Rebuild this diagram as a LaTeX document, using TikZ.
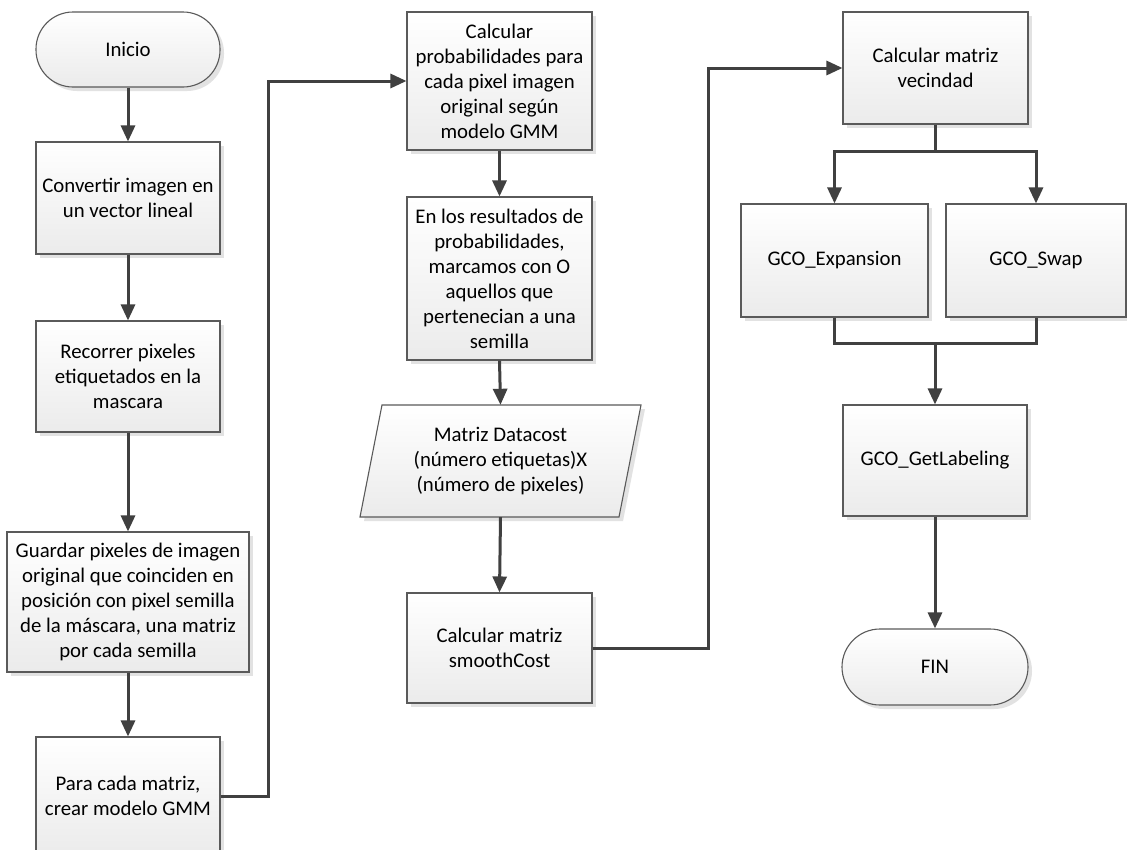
\documentclass[tikz,border=0pt]{standalone}
\usepackage{fontspec}
\setmainfont{Carlito}
\usetikzlibrary{arrows.meta,shadows,calc}
\definecolor{arrc}{HTML}{404040}
\definecolor{edgec}{HTML}{5A5A5A}
\definecolor{shc}{HTML}{E2E2E2}
\definecolor{botc}{HTML}{EBEBEB}
\begin{document}
\begin{tikzpicture}[x=1pt,y=-1pt,
  boxfill/.style={draw=edgec, line width=1.1pt, top color=white, bottom color=botc},
  box/.style={boxfill, drop shadow={shadow xshift=4pt, shadow yshift=-4pt, fill=shc, opacity=1},
    align=center, inner sep=0pt, font=\fontsize{20.8pt}{25pt}\selectfont, minimum width=184pt},
  term/.style={box, rounded corners=37pt},
  arr/.style={draw=arrc, line width=3pt, -{Triangle[length=16pt,width=14pt]}},
  conn/.style={draw=arrc, line width=3pt},
]
\useasboundingbox (0,0) rectangle (1127,849);
\fill[white] (0,0) rectangle (1127,849);
\clip (0,0) rectangle (1127,849);

% left column
\node[term, minimum height=75pt] (inicio) at (128,49.5) {Inicio};
\node[box, minimum height=112pt] (b1) at (128,198) {Convertir imagen en\\un vector lineal};
\node[box, minimum height=111pt] (b2) at (128,376.5) {Recorrer pixeles\\etiquetados en la\\mascara};
\node[box, minimum height=140pt, minimum width=242pt] (b3) at (128,602) {Guardar pixeles de imagen\\original que coinciden en\\posición con pixel semilla\\de la máscara, una matriz\\por cada semilla};
\node[box, minimum height=118pt] (b4) at (128,796) {Para cada matriz,\\crear modelo GMM};

% middle column
\node[box, minimum height=138pt, minimum width=185pt] (p1) at (499.5,81) {Calcular\\probabilidades para\\cada pixel imagen\\original según\\modelo GMM};
\node[box, minimum height=163pt, minimum width=185pt] (p2) at (499.5,278.5) {En los resultados de\\probabilidades,\\marcamos con O\\aquellos que\\pertenecian a una\\semilla};
\fill[shc, xshift=4pt, yshift=-4pt] (382,405) -- (641,405) -- (619,517) -- (360,517) -- cycle;
\path[boxfill] (382,405) -- (641,405) -- (619,517) -- (360,517) -- cycle;
\node[align=center, inner sep=0pt, font=\fontsize{20.8pt}{25pt}\selectfont, minimum width=259pt, minimum height=112pt] (data) at (500.5,461) {Matriz Datacost\\(número etiquetas)X\\(número de pixeles)};
\node[box, minimum height=110pt, minimum width=185pt] (p4) at (499.5,648) {Calcular matriz\\smoothCost};

% right column
\node[box, minimum height=112pt, minimum width=185pt] (v) at (935.5,68) {Calcular matriz\\vecindad};
\node[box, minimum height=113pt, minimum width=187pt] (e) at (834.5,260.5) {GCO\_Expansion};
\node[box, minimum height=113pt, minimum width=180pt] (s) at (1036,260.5) {GCO\_Swap};
\node[box, minimum height=111pt] (gl) at (935,460.5) {GCO\_GetLabeling};
\node[term, minimum height=76pt, minimum width=186pt, rounded corners=38pt] (fin) at (935,667) {FIN};

% connectors
\draw[arr] (inicio.south) -- (b1.north);
\draw[arr] (b1.south) -- (b2.north);
\draw[arr] (b2.south) -- (b3.north);
\draw[arr] (b3.south) -- (b4.north);
\draw[arr] (b4.east) -- ++(48,0) |- (p1.west);
\draw[arr] (p1.south) -- (p2.north);
\draw[arr] (p2.south) -- (data.north);
\draw[arr] (data.south) -- (p4.north);
\draw[arr] (p4.east) -- ++(116,0) |- (v.west);
\coordinate (split) at ($(v.south)+(0,27)$);
\draw[conn] (v.south) -- (split);
\draw[arr] (split) -| (e.north);
\draw[arr] (split) -| (s.north);
\coordinate (merge) at ($(gl.north)+(0,-61)$);
\draw[conn] (e.south) |- (merge) -| (s.south);
\draw[arr] (merge) -- (gl.north);
\draw[arr] (gl.south) -- (fin.north);
\end{tikzpicture}
\end{document}
